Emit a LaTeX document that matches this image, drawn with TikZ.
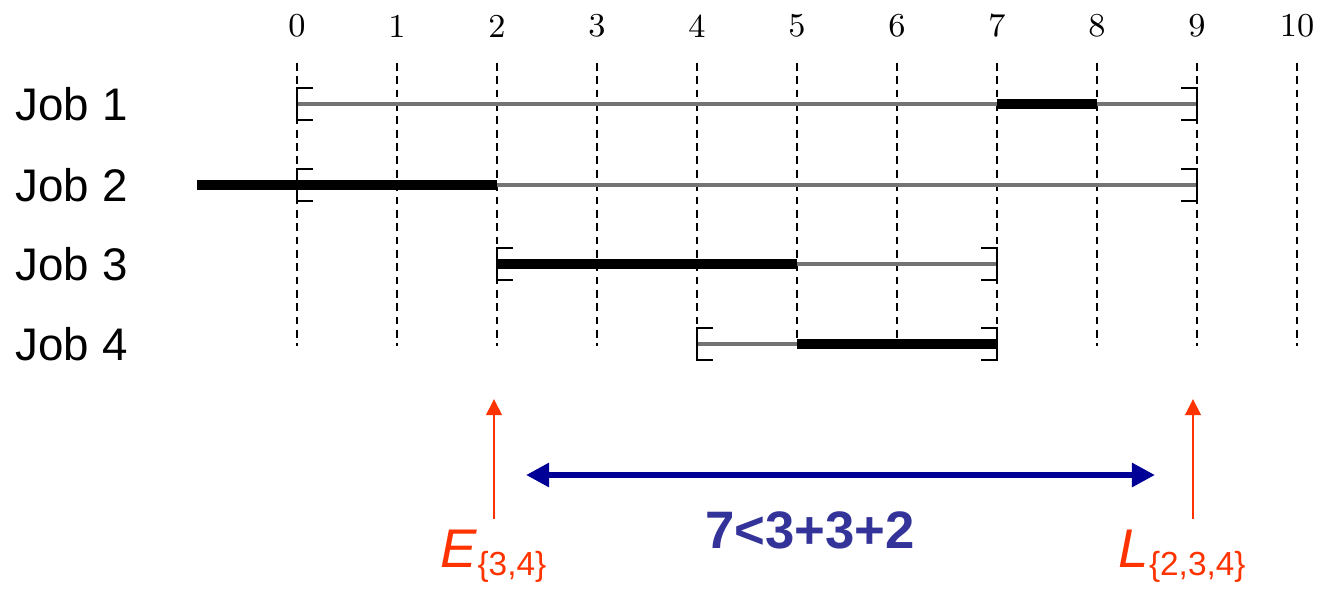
\documentclass[tikz,border=0pt]{standalone}
\usepackage{fontspec}
\setmainfont{Liberation Sans}
\newfontfamily\cmfont{Latin Modern Roman}
\usetikzlibrary{arrows.meta}

\definecolor{deadred}{RGB}{255,51,0}
\definecolor{spanblue}{RGB}{0,0,150}
\definecolor{sumblue}{RGB}{51,51,153}

\tikzset{
    gridline/.style={black, line width=0.6pt, dash pattern=on 2.2pt off 1.6pt},
    window/.style={black!55, line width=0.9pt},
    run/.style={black, line width=3pt},
    brk/.style={black, line width=0.7pt},
    ticklab/.style={font=\cmfont\fontsize{9.5}{11}\selectfont, inner sep=0pt},
    joblab/.style={font=\fontsize{13}{15}\selectfont, inner sep=0pt, anchor=west},
    deadarrow/.style={deadred, line width=0.8pt, -{Triangle[length=4.6pt,width=4.4pt]}},
    spanarrow/.style={spanblue, line width=1.6pt, {Triangle[length=6.6pt,width=6.6pt]}-{Triangle[length=6.6pt,width=6.6pt]}},
    deadlab/.style={deadred, inner sep=0pt, anchor=base west}
}

\newcommand{\openbrk}[2]{\draw[brk] ([shift={(0.16,0.16)}]#1,#2) -- ++(-0.16,0) -- ++(0,-0.32) -- ++(0.16,0);}
\newcommand{\closebrk}[2]{\draw[brk] ([shift={(-0.16,0.16)}]#1,#2) -- ++(0.16,0) -- ++(0,-0.32) -- ++(-0.16,0);}
\newcommand{\setname}[2]{\fontsize{15.5}{18}\selectfont\textit{#1}\raisebox{-0.15em}{\fontsize{9.5}{11}\selectfont\{#2\}}}

\begin{document}
\begin{tikzpicture}
    \useasboundingbox (-2.97,0) rectangle (10.23,-5.89);

    % time axis
    \foreach \t in {0,...,10} {
        \node[ticklab] (t\t) at (\t,-0.26) {\t};
        \draw[gridline] (\t,-0.63) -- (\t,-3.46);
    }

    % jobs: number/row/release/deadline/start/end
    \foreach \j/\y/\r/\d/\s/\e in {1/-1.04/0/9/7/8, 2/-1.85/0/9/-1/2, 3/-2.64/2/7/2/5, 4/-3.44/4/7/5/7} {
        \node[joblab] (job\j) at (-2.82,\y) {Job \j};
        \draw[window] (\r,\y) -- (\d,\y);
        \draw[run] (\s,\y) -- (\e,\y);
        \openbrk{\r}{\y}
        \closebrk{\d}{\y}
    }

    % earliest start and latest end
    \coordinate (Efoot) at (1.97,-5.19);
    \coordinate (Ehead) at (1.97,-3.99);
    \coordinate (Lfoot) at (8.96,-5.19);
    \coordinate (Lhead) at (8.96,-3.99);
    \draw[deadarrow] (Efoot) -- (Ehead);
    \draw[deadarrow] (Lfoot) -- (Lhead);
    \node[deadlab] (Elab) at (1.43,-5.67) {\setname{E}{3,4}};
    \node[deadlab] (Llab) at (8.21,-5.67) {\setname{L}{2,3,4}};

    % available window vs. total processing
    \coordinate (spanL) at (2.29,-4.75);
    \coordinate (spanR) at (8.58,-4.75);
    \draw[spanarrow] (spanL) -- (spanR);
    \node[sumblue, font=\bfseries\fontsize{15}{18}\selectfont, inner sep=0pt] (sum) at (5.13,-5.30) {7<3+3+2};
\end{tikzpicture}
\end{document}
